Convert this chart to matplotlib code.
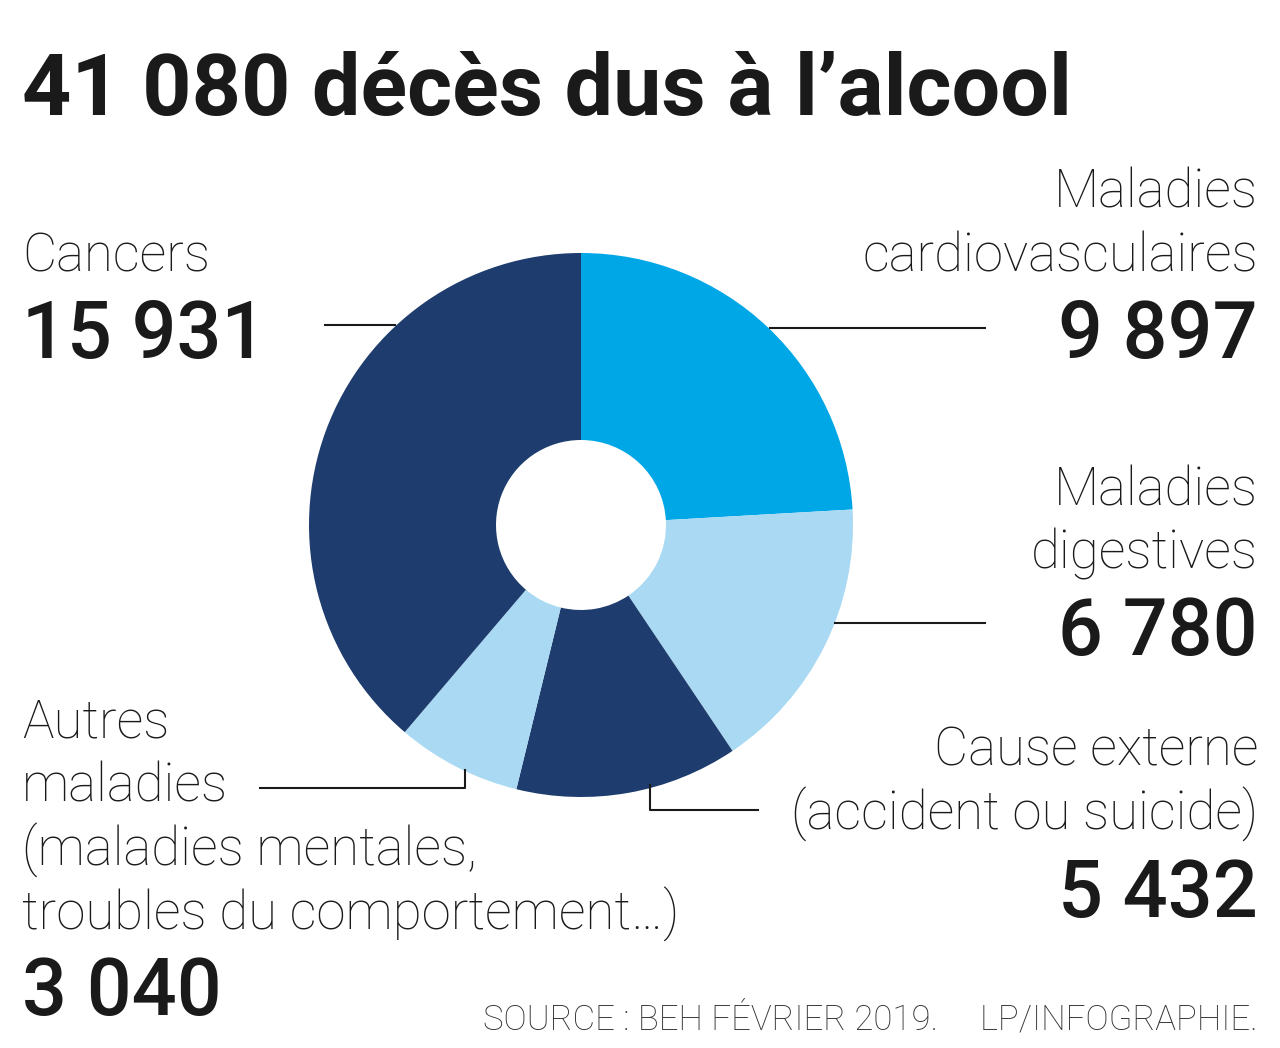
import matplotlib
matplotlib.use("Agg")
import matplotlib.pyplot as plt

categories = ["Maladies cardiovasculaires", "Maladies digestives", "Cause externe", "Autres maladies", "Cancers"]
values = [9897, 6780, 5432, 3040, 15931]
colors = ["#00A7E7", "#A9D9F3", "#1E3D6E", "#A9D9F3", "#1E3D6E"]
value_labels = ["9 897", "6 780", "5 432", "3 040", "15 931"]

H = 1048
fig = plt.figure(figsize=(12.8, 10.48), dpi=100)
ax = fig.add_axes([0, 0, 1, 1])

ax.pie(values, colors=colors, startangle=90, counterclock=False, center=(581, H-525),
       radius=272, wedgeprops=dict(width=272-85, linewidth=0), frame=True)
ax.set_xlim(0, 1280); ax.set_ylim(0, H); ax.set_aspect("equal"); ax.axis("off")

F = ["Roboto", "DejaVu Sans"]
dark = "#1a1a1a"
def t(x, y, s, size, ha="left", weight="light", color=dark):
    ax.text(x, H-y, s, fontsize=size, ha=ha, va="baseline", family=F, weight=weight, color=color)

t(22, 115, "41 080 décès dus à l’alcool", 62, weight="bold")
t(22, 272, "Cancers", 38)
t(22, 358, "15 931", 57, weight="medium")
t(1258, 208, "Maladies", 38, ha="right")
t(1258, 272, "cardiovasculaires", 38, ha="right")
t(1258, 358, "9 897", 57, ha="right", weight="medium")
t(1258, 505, "Maladies", 38, ha="right")
t(1258, 568, "digestives", 38, ha="right")
t(1258, 655, "6 780", 57, ha="right", weight="medium")
t(1258, 765, "Cause externe", 38, ha="right")
t(1258, 830, "(accident ou suicide)", 38, ha="right")
t(1258, 917, "5 432", 57, ha="right", weight="medium")
t(22, 738, "Autres", 38)
t(22, 802, "maladies", 38)
t(22, 866, "(maladies mentales,", 38)
t(22, 930, "troubles du comportement…)", 38)
t(22, 1015, "3 040", 57, weight="medium")
t(1258, 1030, "SOURCE : BEH FÉVRIER 2019.     LP/INFOGRAPHIE.", 25, ha="right", color="#333333")

lw = 1.5
def line(xs, ys):
    ax.plot(xs, [H-y for y in ys], color=dark, lw=lw)
line([325, 395], [325, 325])
line([770, 985], [328, 328])
line([835, 985], [623, 623])
line([650, 650, 758], [785, 810, 810])
line([260, 465, 465], [788, 788, 770])

fig.savefig("out.png", dpi=100)
